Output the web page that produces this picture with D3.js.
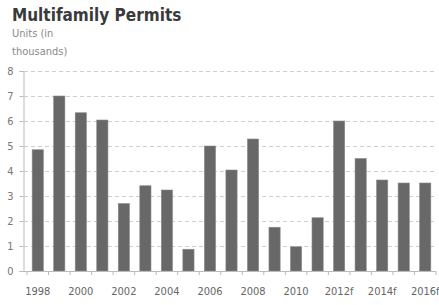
<!DOCTYPE html>
<html>
<head>
<meta charset="utf-8">
<script src="https://cdn.jsdelivr.net/npm/d3@7"></script>
<style>
  body { margin: 0; background: #fff; }
  text { font-family: "Liberation Sans Narrow", "DejaVu Sans Condensed", sans-serif; }
</style>
</head>
<body>
<div id="chart"></div>
<script>
// Chart data
var years = ["1998", "1999", "2000", "2001", "2002", "2003", "2004", "2005", "2006", "2007",
  "2008", "2009", "2010", "2011", "2012f", "2013f", "2014f", "2015f", "2016f"];
var permits = [4.85, 7.0, 6.33, 6.04, 2.7, 3.41, 3.24, 0.87, 5.0, 4.04,
  5.28, 1.75, 0.97, 2.13, 6.0, 4.5, 3.64, 3.52, 3.52];
var yTicks = [0, 1, 2, 3, 4, 5, 6, 7, 8];
var xLabels = ["1998", "2000", "2002", "2004", "2006", "2008", "2010", "2012f", "2014f", "2016f"];

var svgWidth = 439;
var svgHeight = 305;

var chartMargin = { top: 71, right: 3, bottom: 34, left: 27 };
var chartWidth = svgWidth - chartMargin.left - chartMargin.right;
var chartHeight = svgHeight - chartMargin.top - chartMargin.bottom;

var svg = d3.select("#chart")
  .append("svg")
  .attr("width", svgWidth)
  .attr("height", svgHeight);

// Title and unit note
svg.append("text")
  .attr("x", 12)
  .attr("y", 21)
  .attr("font-size", "17px")
  .attr("font-weight", "bold")
  .attr("fill", "#3a3a3a")
  .text("Multifamily Permits");

svg.append("text")
  .attr("x", 12)
  .attr("y", 37)
  .attr("font-size", "11px")
  .attr("fill", "#8a8a8a")
  .text("Units (in");

svg.append("text")
  .attr("x", 12)
  .attr("y", 55)
  .attr("font-size", "11px")
  .attr("fill", "#8a8a8a")
  .text("thousands)");

var chartGroup = svg.append("g")
  .attr("transform", `translate(${chartMargin.left}, ${chartMargin.top})`);

var xScale = d3.scaleBand()
  .domain(years)
  .range([0, chartWidth])
  .paddingInner(0.48)
  .paddingOuter(0.24);

var yScale = d3.scaleLinear()
  .domain([0, 8])
  .range([chartHeight, 0]);

// Dashed grid lines
chartGroup.append("g")
  .selectAll("line")
  .data(yTicks.slice(1))
  .enter()
  .append("line")
  .attr("x1", -3)
  .attr("x2", chartWidth)
  .attr("y1", d => yScale(d) + 0.5)
  .attr("y2", d => yScale(d) + 0.5)
  .attr("stroke", "#cfcfcf")
  .attr("stroke-dasharray", "4,3");

// Bars
chartGroup.selectAll("rect")
  .data(permits)
  .enter()
  .append("rect")
  .attr("x", (d, i) => xScale(years[i]))
  .attr("y", d => yScale(d))
  .attr("width", xScale.bandwidth())
  .attr("height", d => chartHeight - yScale(d))
  .attr("fill", "#686868")
  .attr("stroke", "#8a8a8a")
  .attr("stroke-width", 0.6);

// Y axis
var leftAxis = d3.axisLeft(yScale)
  .tickValues(yTicks)
  .tickSize(4)
  .tickPadding(6);

var yAxis = chartGroup.append("g")
  .attr("transform", "translate(-3.5, 0)")
  .call(leftAxis);
yAxis.select(".domain").attr("stroke", "#bbbbbb");
yAxis.selectAll(".tick line").attr("stroke", "#bbbbbb");
yAxis.selectAll(".tick text")
  .attr("fill", "#777")
  .attr("font-size", "11px")
  .style("font-family", "\"Liberation Sans Narrow\", \"DejaVu Sans Condensed\", sans-serif");

// X axis: line plus ticks at band edges
chartGroup.append("line")
  .attr("x1", -7)
  .attr("x2", chartWidth)
  .attr("y1", chartHeight + 0.5)
  .attr("y2", chartHeight + 0.5)
  .attr("stroke", "#bbbbbb");

var step = xScale.step();
var edges = d3.range(years.length + 1);
chartGroup.append("g")
  .selectAll("line")
  .data(edges)
  .enter()
  .append("line")
  .attr("x1", d => xScale(years[0]) - xScale.paddingInner() * step / 2 + d * step)
  .attr("x2", d => xScale(years[0]) - xScale.paddingInner() * step / 2 + d * step)
  .attr("y1", chartHeight)
  .attr("y2", chartHeight + 4)
  .attr("stroke", "#bbbbbb");

// X labels
chartGroup.append("g")
  .selectAll("text")
  .data(xLabels)
  .enter()
  .append("text")
  .attr("x", d => xScale(d) + xScale.bandwidth() / 2)
  .attr("y", chartHeight + 24)
  .attr("text-anchor", "middle")
  .attr("font-size", "11px")
  .attr("fill", "#666")
  .text(d => d);
</script>
</body>
</html>
